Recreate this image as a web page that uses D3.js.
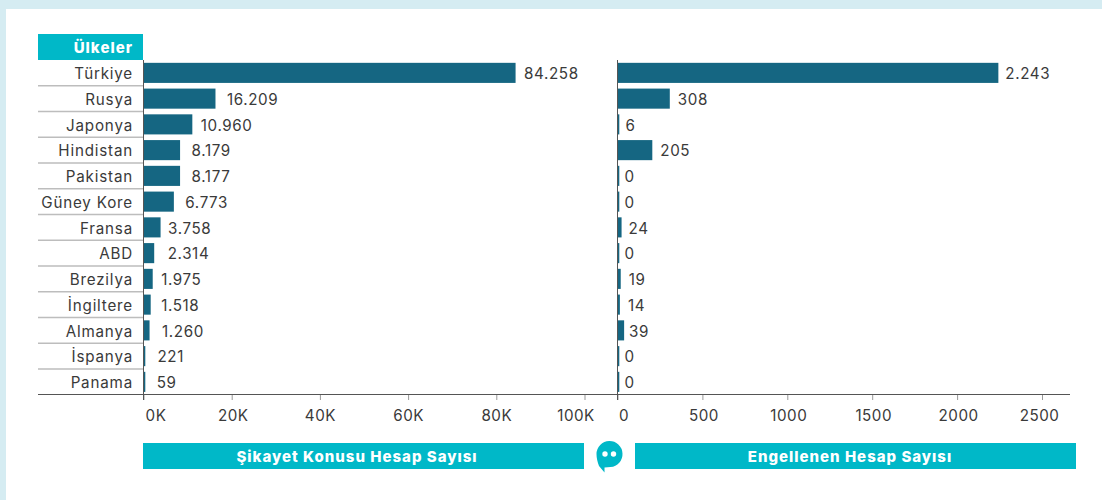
<!DOCTYPE html>
<html><head><meta charset="utf-8">
<script src="https://cdn.jsdelivr.net/npm/d3@7"></script>
<style>
html,body{margin:0;padding:0;background:#fff;overflow:hidden}
text{font-family:Inter,"Open Sans",sans-serif}
</style></head><body><svg id="c" width="1102" height="500"></svg>
<script>
const categories=["Türkiye","Rusya","Japonya","Hindistan","Pakistan","Güney Kore","Fransa","ABD","Brezilya","İngiltere","Almanya","İspanya","Panama"];
const complaints=[84258,16209,10960,8179,8177,6773,3758,2314,1975,1518,1260,221,59];
const blocked=[2243,308,6,205,0,0,24,0,19,14,39,0,0];
const complaintLabels=["84.258","16.209","10.960","8.179","8.177","6.773","3.758","2.314","1.975","1.518","1.260","221","59"];
const blockedLabels=["2.243","308","6","205","0","0","24","0","19","14","39","0","0"];
const complaintTicks=[0,20000,40000,60000,80000,100000];
const blockedTicks=[0,500,1000,1500,2000,2500];
const headerCategories="Ülkeler";
const leftTitle="Şikayet Konusu Hesap Sayısı";
const rightTitle="Engellenen Hesap Sayısı";

const TEAL="#00b8c8",BAR="#156682",INK="#3a3a3a",GREY="#999";
const svg=d3.select("#c");
svg.append("rect").attr("width",1102).attr("height",9).attr("fill","#d5ecf2");
svg.append("rect").attr("width",6).attr("height",500).attr("fill","#d5ecf2");

const y=d3.scaleBand().domain(categories).range([60,394.75]).paddingInner(0.22).paddingOuter(0.11);
const xL=d3.scaleLinear().domain([0,100000]).range([143.5,584.5]);
const xR=d3.scaleLinear().domain([0,2500]).range([617.5,1042]);
const step=y.step();
const labelPadL=[9,12,9,12,12,12,8,14,9,11,13,13,13];
const labelPadR=[7,8,7,8,7,7,7,7,8,8,5,7,7];
const fs=15.2;

// row separators
svg.append("g").selectAll("line").data(categories.slice(0,-1)).join("line")
 .attr("x1",38).attr("x2",143)
 .attr("y1",d=>y(d)+y.bandwidth()+ (step-y.bandwidth())/2)
 .attr("y2",d=>y(d)+y.bandwidth()+ (step-y.bandwidth())/2)
 .attr("stroke","#bdbdbd").attr("stroke-width",1.5);

// category labels
svg.append("g").selectAll("text").data(categories).join("text")
 .attr("x",133).attr("y",d=>y(d)+y.bandwidth()/2+1).attr("dy","0.35em")
 .attr("text-anchor","end").attr("fill",INK).attr("font-size",fs).attr("letter-spacing",0.8).text(d=>d);

function panel(values,labels,x,pads,extra){
 const g=svg.append("g");
 g.selectAll("rect").data(values).join("rect")
  .attr("x",x(0)).attr("y",(d,i)=>y(categories[i]))
  .attr("width",d=>Math.max(1.8,x(d)-x(0)+extra)).attr("height",y.bandwidth())
  .attr("fill",BAR);
 g.selectAll("text").data(values).join("text")
  .attr("x",(d,i)=>x(d)+pads[i]).attr("y",(d,i)=>y(categories[i])+y.bandwidth()/2+1).attr("dy","0.35em")
  .attr("fill",INK).attr("font-size",fs).attr("letter-spacing",0.6).text((d,i)=>labels[i]);
}
panel(complaints,complaintLabels,xL,labelPadL,0.5);
panel(blocked,blockedLabels,xR,labelPadR,0);

// axes
function axis(x,ticks,fmt,nudge){
 const g=svg.append("g").attr("transform","translate(0,394)")
  .call(d3.axisBottom(x).tickValues(ticks).tickFormat(fmt).tickSize(6).tickPadding(10));
 g.select(".domain").remove();
 g.selectAll(".tick line").attr("stroke",GREY).attr("stroke-width",1);
 g.selectAll(".tick text").attr("font-size",fs).attr("fill",INK).attr("letter-spacing",0.5)
  .attr("font-family",'Inter,"Open Sans",sans-serif')
  .attr("dx",(d,i)=>nudge[i]);
}
axis(xL,complaintTicks,d=>(d/1000)+"K",[12,1,0,0,0,-9]);
axis(xR,blockedTicks,d=>d,[6,1,1,1,1,-3]);

// axis lines
svg.append("line").attr("x1",38).attr("x2",1070).attr("y1",394.5).attr("y2",394.5).attr("stroke","#555").attr("stroke-width",1);
[143.5,617.5].forEach(v=>svg.append("line").attr("x1",v).attr("x2",v).attr("y1",60).attr("y2",400).attr("stroke","#555").attr("stroke-width",1));

// header boxes
function box(x0,x1,y0,y1,t,anchor,tx){
 svg.append("rect").attr("x",x0).attr("y",y0).attr("width",x1-x0).attr("height",y1-y0).attr("fill",TEAL);
 svg.append("text").attr("x",tx).attr("y",(y0+y1)/2+0.7).attr("dy","0.35em").attr("text-anchor",anchor)
  .attr("fill","#fff").attr("font-weight",800).attr("font-size",15).attr("letter-spacing",1).text(t);
}
box(38,143,34,60,headerCategories,"end",133);
box(143,584,443,469,leftTitle,"middle",357);
box(635,1076,443,469,rightTitle,"middle",850);

// bubble icon
const ic=svg.append("g").attr("transform","translate(609.5,454)");
ic.append("path").attr("d","M-13,0 A13,13 0 1 1 1,13 L-5,13.5 L-5,18.5 L-10.5,12 C-12,8 -13,4 -13,0 Z").attr("fill",TEAL);
ic.append("circle").attr("cx",-4.5).attr("cy",0).attr("r",2.7).attr("fill","#fff");
ic.append("circle").attr("cx",4).attr("cy",0).attr("r",2.7).attr("fill","#fff");
</script></body></html>
